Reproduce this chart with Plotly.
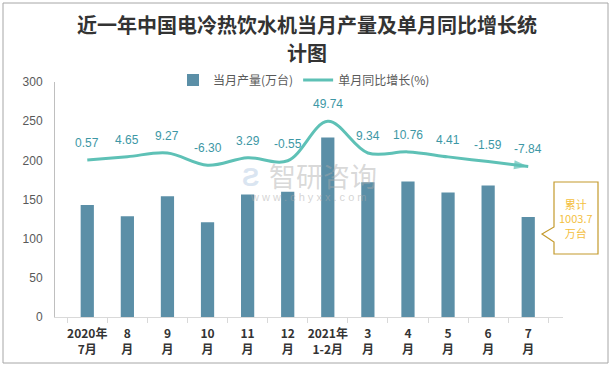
import plotly.graph_objects as go

categories = ["2020年<br>7月", "8<br>月", "9<br>月", "10<br>月", "11<br>月", "12<br>月",
              "2021年<br>1-2月", "3<br>月", "4<br>月", "5<br>月", "6<br>月", "7<br>月"]
production = [143, 128.5, 154, 121, 156.5, 160, 229, 172, 173, 159, 168, 127.6]
yoy = [0.57, 4.65, 9.27, -6.30, 3.29, -0.55, 49.74, 9.34, 10.76, 4.41, -1.59, -7.84]
yoy_labels = ["0.57", "4.65", "9.27", "-6.30", "3.29", "-0.55", "49.74", "9.34",
              "10.76", "4.41", "-1.59", "-7.84"]
y_ticks = [0, 50, 100, 150, 200, 250, 300]
cumulative_text = "累计<br>1003.7<br>万台"
title_lines = ["近一年中国电冷热饮水机当月产量及单月同比增长统", "计图"]

W, H = 615, 366
L, R, T, B = 55, 52, 82, 49
pw = W - L - R
ph = H - T - B


def px(x):
    return (x - L) / pw


def py(y):
    return (H - B - y) / ph


BAR = "#5b8fa7"
LINE = "#5ec1b6"
LBL = "#3d97a5"
GOLD_TXT = "#f4bf3f"
GOLD_BOX = "#c49a2c"
FONT = "Noto Sans CJK SC"

fig = go.Figure()
fig.add_trace(go.Bar(x=categories, y=production, name="当月产量(万台)",
                     marker=dict(color=BAR, line=dict(width=0))))
n = len(yoy)
fig.add_trace(go.Scatter(
    x=categories, y=yoy, yaxis="y2", mode="lines+markers", showlegend=False,
    line=dict(color=LINE, width=3, shape="spline"),
    marker=dict(symbol=["circle"] + ["circle"] * (n - 2) + ["arrow"],
                size=[11] + [0] * (n - 2) + [15],
                color=["#f5b731"] + [LINE] * (n - 1),
                angleref="previous", line=dict(width=0)),
    hoverinfo="skip"))
fig.add_trace(go.Scatter(x=[None], y=[None], mode="lines", name="单月同比增长(%)",
                         line=dict(color=LINE, width=3)))

annotations = []
for c, v, t in zip(categories, yoy, yoy_labels):
    annotations.append(dict(x=c, y=v, xref="x", yref="y2", text=t, showarrow=False,
                            yshift=17, font=dict(family="Liberation Sans", size=12, color=LBL)))
# title (two lines)
for line_text, ycen in zip(title_lines, [25, 52]):
    annotations.append(dict(x=px(307), y=py(ycen), xref="paper", yref="paper",
                            text=f"<b>{line_text}</b>", showarrow=False,
                            xanchor="center", yanchor="middle",
                            font=dict(family=FONT, size=20, color="#333333")))
# callout text
annotations.append(dict(x=px(576), y=py(218), xref="paper", yref="paper",
                        text=cumulative_text, showarrow=False, xanchor="center", yanchor="middle",
                        font=dict(family=FONT, size=11, color=GOLD_TXT)))
# watermark
annotations.append(dict(x=px(323), y=py(175), xref="paper", yref="paper", text="智研咨询",
                        showarrow=False, xanchor="center", yanchor="middle",
                        font=dict(family=FONT, size=27, color="rgba(170,170,170,0.45)")))
annotations.append(dict(x=px(308), y=py(197), xref="paper", yref="paper",
                        text="w w w . c h y x x . c o m", showarrow=False,
                        xanchor="center", yanchor="middle",
                        font=dict(family="Liberation Sans", size=11, color="rgba(170,170,170,0.5)")))
annotations.append(dict(x=px(250), y=py(177), xref="paper", yref="paper", text="<b>Ƨ</b>",
                        showarrow=False, xanchor="center", yanchor="middle",
                        font=dict(family="Liberation Sans", size=26, color="rgba(150,180,215,0.35)")))

shapes = [
    dict(type="rect", xref="paper", yref="paper", x0=px(3), x1=px(608), y0=py(363), y1=py(3),
         line=dict(color="#a6a6a6", width=1), fillcolor="rgba(0,0,0,0)", layer="below"),
    dict(type="path", xref="paper", yref="paper",
         path=(f"M {px(554)},{py(182)} L {px(598)},{py(182)} L {px(598)},{py(254)} "
               f"L {px(554)},{py(254)} L {px(554)},{py(242)} L {px(542)},{py(234)} "
               f"L {px(554)},{py(227)} Z"),
         line=dict(color=GOLD_BOX, width=1.2), fillcolor="white", layer="below"),
]

fig.update_layout(
    width=W, height=H, margin=dict(l=L, r=R, t=T, b=B, autoexpand=False),
    paper_bgcolor="white", plot_bgcolor="white",
    bargap=0.67,
    legend=dict(orientation="h", x=px(304), xanchor="center", y=py(80), yanchor="middle",
                font=dict(family=FONT, size=12, color="#595959"), bgcolor="rgba(0,0,0,0)",
                itemwidth=30, traceorder="normal"),
    xaxis=dict(type="category", showline=True, linecolor="#d9d9d9", linewidth=1,
               ticks="outside", tickson="boundaries", ticklen=5, tickcolor="#d9d9d9",
               showgrid=False, zeroline=False, tickangle=0, automargin=False,
               ticklabelstandoff=6,
               tickfont=dict(family=FONT, size=12, color="#333333", weight="bold")),
    yaxis=dict(range=[0, 300], tickvals=y_ticks, showgrid=False, zeroline=False,
               showline=True, linecolor="#bfbfbf", linewidth=1, ticks="",
               ticklabelstandoff=9, automargin=False,
               tickfont=dict(family="Liberation Sans", size=12, color="#595959")),
    yaxis2=dict(range=[-200, 100], overlaying="y", visible=False),
    annotations=annotations, shapes=shapes, showlegend=True,
)

fig.write_html("out.html", config={"displayModeBar": False},
               post_script="document.body.style.margin='0px';")
